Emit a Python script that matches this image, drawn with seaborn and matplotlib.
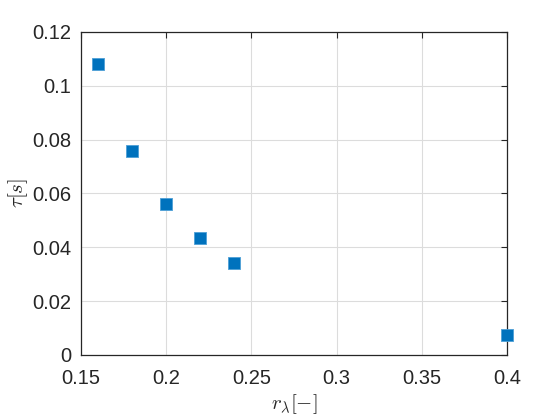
import pandas as pd
import matplotlib
matplotlib.use("Agg")
import matplotlib.pyplot as plt
import seaborn as sns

# -------------------------------
# Data
# -------------------------------
r_lambda = [0.16, 0.18, 0.20, 0.22, 0.24, 0.40]
tau = [0.1082, 0.0756, 0.0559, 0.0433, 0.0340, 0.0073]

x_ticks = [0.15, 0.2, 0.25, 0.3, 0.35, 0.4]
x_tick_labels = ["0.15", "0.2", "0.25", "0.3", "0.35", "0.4"]
y_ticks = [0, 0.02, 0.04, 0.06, 0.08, 0.1, 0.12]
y_tick_labels = ["0", "0.02", "0.04", "0.06", "0.08", "0.1", "0.12"]

df = pd.DataFrame({"r": r_lambda, "tau": tau})

# -------------------------------
# Style (MATLAB-like)
# -------------------------------
sns.set_style("white")
plt.rcParams["font.family"] = ["Liberation Sans", "DejaVu Sans"]
plt.rcParams["mathtext.fontset"] = "cm"

fig = plt.figure(figsize=(5.6, 4.2), dpi=100)
ax = fig.add_axes([0.145, 0.155, 0.76, 0.769])

sns.scatterplot(data=df, x="r", y="tau", marker="s", s=68,
                color="#0072BD", edgecolor="#4d9fd6", linewidth=0.6,
                ax=ax, zorder=3, clip_on=False)

ax.set_xlim(0.15, 0.4)
ax.set_ylim(0, 0.12)
ax.set_xticks(x_ticks)
ax.set_xticklabels(x_tick_labels)
ax.set_yticks(y_ticks)
ax.set_yticklabels(y_tick_labels)

ax.grid(True, color="#dcdcdc", linewidth=0.8)
ax.set_axisbelow(True)
for sp in ax.spines.values():
    sp.set_visible(True)
    sp.set_color("#262626")
    sp.set_linewidth(0.9)

ax.tick_params(direction="in", length=4, width=0.8, colors="#262626",
               labelsize=14.5, top=True, right=True, pad=7)
ax.tick_params(axis="x", pad=10)

ax.set_xlabel(r"$r_\lambda[-]$", fontsize=15, color="#262626", labelpad=3)
ax.set_ylabel(r"$\tau[s]$", fontsize=15, color="#262626", labelpad=2)

plt.savefig("out.png", dpi=100)
